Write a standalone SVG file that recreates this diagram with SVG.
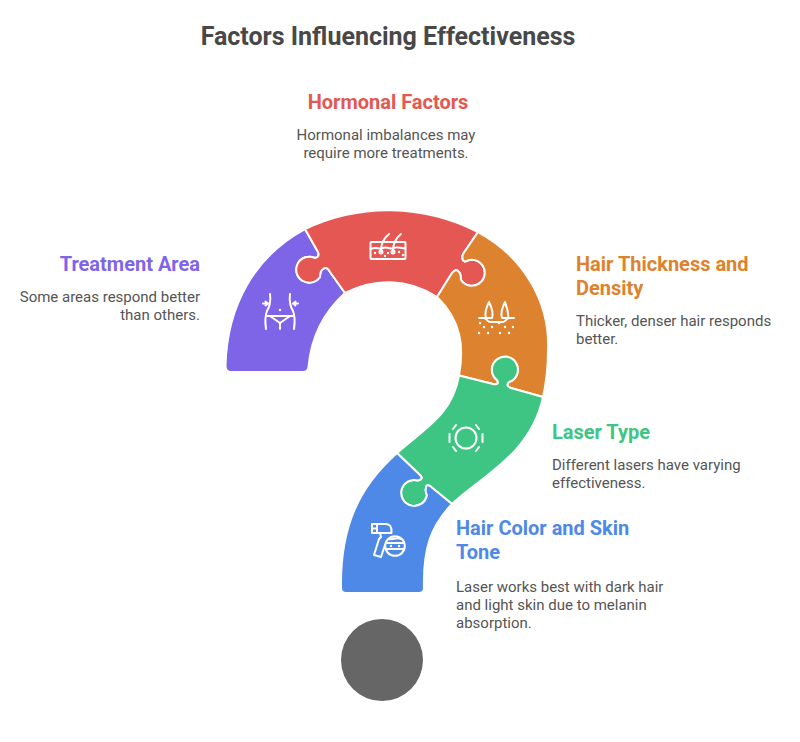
<svg xmlns="http://www.w3.org/2000/svg" width="800" height="742" viewBox="0 0 800 742">
<style>
text{font-family:Roboto,"Liberation Sans",sans-serif}
.t{font-size:25px;font-weight:700;fill:#484848}
.h{font-size:20px;font-weight:700}
.d{font-size:15px;fill:#555}
.p{stroke:#fff;stroke-width:2;stroke-linejoin:round}
.i{fill:none;stroke:#fff;stroke-width:2;stroke-linecap:round;stroke-linejoin:round}
.w{fill:#fff}
</style>
<rect width="800" height="742" fill="#fff"/>
<text class="t" x="388" y="45" text-anchor="middle">Factors Influencing Effectiveness</text>
<g id="connectors"></g>
<g id="dot"><circle cx="382" cy="660" r="41" fill="#666"/></g>
<g id="treatment-area">
<path class="p" fill="#7e65e8" d="M305 229C255 256 227 305 225.500 366Q225.500 372 231 372L303 372Q308 372 308.500 367C311 338 323 313 345 293L330 272Q327 266 323 269Q320 271 320 277A13 13 0 1 1 315 258Q320 257 318 252Z"/>
<text class="h" x="200" y="271" text-anchor="end" fill="#7e65e8">Treatment Area</text>
<text class="d" x="200" y="302" text-anchor="end">Some areas respond better</text>
<text class="d" x="200" y="320" text-anchor="end">than others.</text>
<g class="i">
<path d="M270 294C271 302 270 306 267 311C265 316 265 322 266 329M290 294C289 302 290 306 293 311C295 316 295 322 294 329"/>
<path d="M267 316H293M270 316L280 323L290 316M280 323V329"/>
<path d="M263 303.500H268M265.500 301.500L268 303.500L265.500 305.500M298 303.500H293M295.500 301.500L293 303.500L295.500 305.500"/>
</g>
<circle class="w" cx="280" cy="310" r="1.200"/>
</g>
<g id="hormonal-factors">
<path class="p" fill="#e55753" d="M305 229C360 203 423 204 478 232L463 254Q461 260 465 261.700A13 13 0 1 1 461 280Q461 274 459 272Q456 268 452 273L437 297C408 278 374 278 345 293L330 272Q327 266 323 269Q320 271 320 277A13 13 0 1 1 315 258Q320 257 318 252Z"/>
<text class="h" x="388" y="109" text-anchor="middle" fill="#e55753">Hormonal Factors</text>
<text class="d" x="386" y="140" text-anchor="middle">Hormonal imbalances may</text>
<text class="d" x="386" y="158" text-anchor="middle">require more treatments.</text>
<g class="i">
<rect x="370.500" y="242" width="35" height="17" rx="1"/>
<path d="M371 249C376 246 379 250 383 248C387 246 390 250 394 248C398 246 401 249 405 248"/>
<path d="M381 251C381 243 384 238 389 234M393 251C393 243 396 238 401 234"/>
<circle cx="381" cy="252" r="1.500"/><circle cx="393" cy="252" r="1.500"/>
</g>
<g class="w"><circle cx="375" cy="253" r="1.200"/><circle cx="388" cy="253" r="1.200"/><circle cx="399" cy="252" r="1.200"/><circle cx="403" cy="255" r="1.200"/><circle cx="385" cy="256" r="1.200"/></g>
</g>
<g id="hair-thickness">
<path class="p" fill="#dd8330" d="M478 232C526 258 550 305 548 350Q548 375 543 397L511 388Q505 386 509 382A13 13 0 1 0 497 380Q500 385 493 384L459 375.500C464 348 462 321 437 297L452 273Q456 268 459 272Q461 274 461 280A13 13 0 1 0 465 261.700Q461 260 463 254Z"/>
<text class="h" x="576" y="271" fill="#dd8330">Hair Thickness and</text>
<text class="h" x="576" y="295" fill="#dd8330">Density</text>
<text class="d" x="576" y="326">Thicker, denser hair responds</text>
<text class="d" x="576" y="344">better.</text>
<g class="i">
<path d="M479 318H484C487 318 487 322 490 322H503C506 322 506 318 509 318H514"/>
<path d="M486 318C484 312 487 306 489 302C491 306 494 312 492 318ZM502 318C500 312 503 306 505 302C506 306 509 312 508 318Z"/>
</g>
<g class="w"><circle cx="480" cy="323" r="1.200"/><circle cx="484" cy="327" r="1.200"/><circle cx="492" cy="327" r="1.200"/><circle cx="499" cy="323" r="1.200"/><circle cx="505" cy="327" r="1.200"/><circle cx="513" cy="327" r="1.200"/><circle cx="479" cy="333" r="1.200"/><circle cx="488" cy="333" r="1.200"/><circle cx="500" cy="333" r="1.200"/><circle cx="509" cy="333" r="1.200"/></g>
</g>
<g id="laser-type">
<path class="p" fill="#3ec584" d="M459 375.500L493 384Q500 385 497 380A13 13 0 1 1 509 382Q505 386 511 388L543 397C531 454 482 476 452 504L430 486Q426 484 426 488Q425 492 427 495A13 13 0 1 1 418 480.500Q424 479 420 475L397 453C425 428 452 415 459 375.500Z"/>
<text class="h" x="552" y="439" fill="#3ec584">Laser Type</text>
<text class="d" x="552" y="470">Different lasers have varying</text>
<text class="d" x="552" y="488">effectiveness.</text>
<g class="i">
<circle cx="466" cy="438" r="10.500"/>
<path d="M456 425L453 429M449.500 434V442M453 447L456 451M476 425L479 429M482.500 434V442M479 447L476 451"/>
</g>
</g>
<g id="hair-color">
<path class="p" fill="#4e89e8" d="M397 453L420 475Q424 479 418 480.500A13 13 0 1 0 427 495Q425 492 426 488Q426 484 430 486L452 504C431 526 423 548 424 588Q424 593 419 593L346 593Q341 593 341 588C340 525 360 486 397 453Z"/>
<text class="h" x="456" y="535" fill="#4e89e8">Hair Color and Skin</text>
<text class="h" x="456" y="559" fill="#4e89e8">Tone</text>
<text class="d" x="456" y="592">Laser works best with dark hair</text>
<text class="d" x="456" y="610">and light skin due to melanin</text>
<text class="d" x="456" y="628">absorption.</text>
<g class="i">
<path d="M372 524H386C390 524 392 527 391.500 533H372ZM377 524V533M372 528.500H377"/>
<path d="M380 533L381 537L379 539L374 555L381 557L385 545"/>
<circle cx="395" cy="546" r="9.800"/>
<path d="M386 543H404M386 549H404M389 539C392 540 397 537 401 539"/>
</g>
<g class="w"><circle cx="391" cy="546" r="1.200"/><circle cx="399" cy="546" r="1.200"/></g>
</g>
</svg>
